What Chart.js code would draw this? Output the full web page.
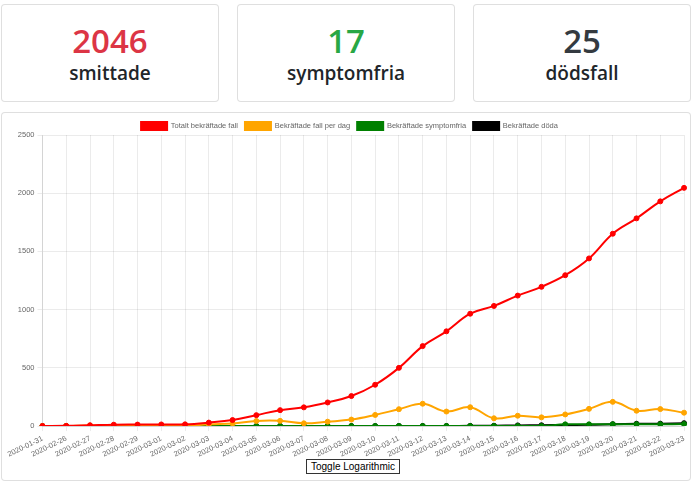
<!DOCTYPE html>
<html>
<head>
<meta charset="utf-8">
<script src="https://cdn.jsdelivr.net/npm/chart.js@4/dist/chart.umd.min.js"></script>
<style>
  body { margin: 0; background: #fff; font-family: "Open Sans", "Noto Sans", sans-serif; }
  .card { position: absolute; border: 1px solid rgba(0,0,0,.125); border-radius: 4px; background: #fff; box-sizing: border-box; }
  .stat { top: 4px; height: 98px; width: 218px; text-align: center; }
  .stat .num { font-size: 33px; font-weight: 600; line-height: 1; margin-top: 19px; }
  .stat .lbl { font-size: 19px; font-weight: 600; line-height: 1; margin-top: 7px; color: #212529; }
  #chartCard { left: 1px; top: 112px; width: 690px; height: 369px; }
  #chartBox { position: absolute; left: 3px; top: 2px; width: 686px; height: 347px; }
  #toggle { position: absolute; left: 304px; top: 346px; font: 10px Arial, "Liberation Sans", sans-serif; padding: 1px 4px; border: 1px solid #333; background: #fff; }
</style>
</head>
<body>
<div class="card stat" style="left:1px"><div class="num" style="color:#dc3545">2046</div><div class="lbl">smittade</div></div>
<div class="card stat" style="left:237px"><div class="num" style="color:#28a745">17</div><div class="lbl">symptomfria</div></div>
<div class="card stat" style="left:473px"><div class="num" style="color:#343a40">25</div><div class="lbl">dödsfall</div></div>

<div class="card" id="chartCard">
  <div id="chartBox"><canvas id="myChart"></canvas></div>
  <button id="toggle">Toggle Logarithmic</button>
</div>

<script>
// dates on the x axis
const dates = ["2020-01-31", "2020-02-26", "2020-02-27", "2020-02-28", "2020-02-29",
  "2020-03-01", "2020-03-02", "2020-03-03", "2020-03-04", "2020-03-05", "2020-03-06",
  "2020-03-07", "2020-03-08", "2020-03-09", "2020-03-10", "2020-03-11", "2020-03-12",
  "2020-03-13", "2020-03-14", "2020-03-15", "2020-03-16", "2020-03-17", "2020-03-18",
  "2020-03-19", "2020-03-20", "2020-03-21", "2020-03-22", "2020-03-23"];

// series values
const totalCases = [1, 2, 7, 12, 13, 14, 15, 30, 52, 94, 137, 161, 203, 258, 355, 500, 687,
  814, 965, 1032, 1121, 1196, 1296, 1440, 1652, 1784, 1930, 2046];
const dailyCases = [1, 1, 5, 5, 1, 1, 1, 15, 22, 44, 45, 24, 38, 56, 96, 145, 192, 125, 162,
  67, 89, 75, 100, 148, 208, 132, 146, 115];
const recovered = [0, 0, 0, 0, 0, 1, 1, 1, 1, 1, 1, 1, 1, 1, 1, 1, 1, 1, 1, 1, 1, 1, 15,
  15, 16, 16, 16, 17];
const deaths = [0, 0, 0, 0, 0, 0, 0, 0, 0, 0, 0, 0, 0, 0, 0, 1, 1, 1, 2, 3, 6, 7, 10, 11,
  16, 20, 21, 25];

const yTicks = [0, 500, 1000, 1500, 2000, 2500];

Chart.defaults.font.family = "Arial, 'Liberation Sans', sans-serif";
Chart.defaults.color = "#666";

function line(label, data, color) {
  return {
    label: label,
    data: data,
    borderColor: color,
    backgroundColor: color,
    borderWidth: 2,
    pointRadius: 2.5,
    pointBorderWidth: 1,
    tension: 0.4,
    fill: false,
  };
}

var myChart = new Chart(document.getElementById("myChart"), {
  type: "line",
  data: {
    labels: dates,
    datasets: [
      line("Totalt bekräftade fall", totalCases, "red"),
      line("Bekräftade fall per dag", dailyCases, "orange"),
      line("Bekräftade symptomfria", recovered, "green"),
      line("Bekräftade döda", deaths, "black"),
    ],
  },
  options: {
    responsive: true,
    maintainAspectRatio: false,
    animation: false,
    layout: { padding: { left: 3, right: 0 } },
    plugins: {
      legend: {
        maxHeight: 20,
        labels: { boxWidth: 26, boxHeight: 8, padding: 7, font: { size: 7.5 } },
      },
      tooltip: { enabled: false },
    },
    scales: {
      x: {
        grid: { color: "rgba(0,0,0,0.08)", tickLength: 5 },
        ticks: { font: { size: 7.5 }, minRotation: 26, maxRotation: 26, autoSkip: false },
      },
      y: {
        min: 0,
        max: 2500,
        grid: { color: "rgba(0,0,0,0.08)", tickLength: 5 },
        afterBuildTicks: (axis) => {
          if (axis.type === "linear") axis.ticks = yTicks.map((v) => ({ value: v }));
        },
        ticks: { font: { size: 7.5 }, callback: (v) => String(v) },
      },
    },
  },
});

// switch the y axis between linear and logarithmic
document.getElementById("toggle").addEventListener("click", function () {
  var y = myChart.options.scales.y;
  if (y.type === "logarithmic") {
    y.type = "linear";
    y.min = 0;
  } else {
    y.type = "logarithmic";
    y.min = 1;
  }
  myChart.update();
});
</script>
</body>
</html>
